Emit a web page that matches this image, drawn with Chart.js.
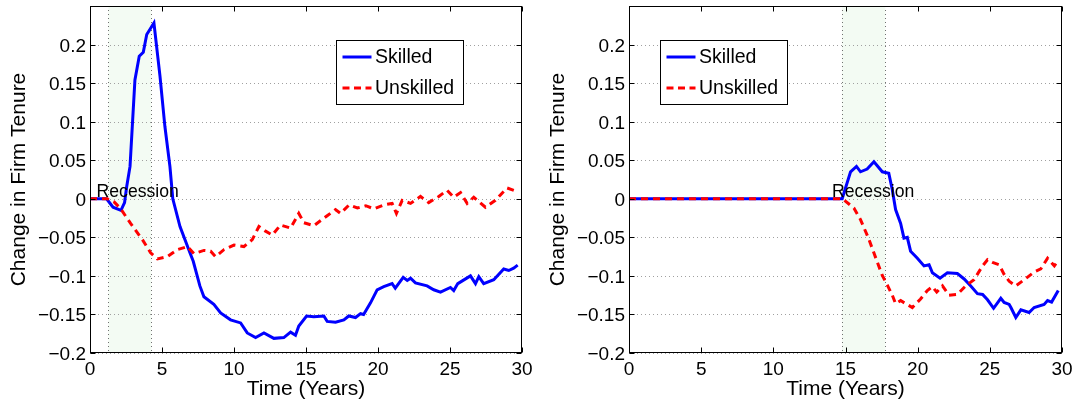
<!DOCTYPE html>
<html>
<head>
<meta charset="utf-8">
<script src="https://cdn.jsdelivr.net/npm/chart.js@4.4.0/dist/chart.umd.min.js"></script>
<style>
  html, body { margin: 0; padding: 0; background: #fff; }
  #wrap { position: relative; width: 1078px; height: 407px; }
  canvas { position: absolute; top: 0; }
</style>
</head>
<body>
<div id="wrap">
  <canvas id="c1" width="539" height="407" style="left:0px;width:539px;height:407px"></canvas>
  <canvas id="c2" width="539" height="407" style="left:539px;width:539px;height:407px"></canvas>
</div>
<script>
// ---------------- DATA ----------------
const seriesNames = ['Skilled', 'Unskilled'];
const xTickValues = [0, 5, 10, 15, 20, 25, 30];
const yTickValues = [-0.2, -0.15, -0.1, -0.05, 0, 0.05, 0.1, 0.15, 0.2];
const xAxisTitle = 'Time (Years)';
const yAxisTitle = 'Change in Firm Tenure';
const recessionLabel = 'Recession';

// Left panel
const leftSkilledT = [0, 1.15, 1.6, 2.15, 2.4, 2.55, 2.78, 3.12, 3.42, 3.7, 3.94, 4.44, 4.86, 5.2, 5.55, 5.75, 6.25, 6.94, 7.17, 7.63, 7.91, 8.6, 9.07, 9.76, 10.46, 10.92, 11.5, 12.08, 12.77, 13.46, 13.93, 14.27, 14.5, 15.04, 15.54, 16.24, 16.47, 17.05, 17.63, 17.97, 18.44, 18.79, 19.0, 19.48, 19.94, 20.4, 20.98, 21.2, 21.75, 22.03, 22.26, 22.6, 23.41, 23.87, 24.34, 25.03, 25.26, 25.54, 26.42, 26.77, 27.0, 27.34, 28.04, 28.73, 29.08, 29.42, 29.7];
const leftSkilledV = [0, 0, -0.011, -0.015, -0.005, 0.016, 0.042, 0.154, 0.185, 0.19, 0.213, 0.228, 0.159, 0.094, 0.042, 0, -0.036, -0.07, -0.081, -0.113, -0.127, -0.137, -0.148, -0.157, -0.161, -0.174, -0.18, -0.174, -0.181, -0.18, -0.173, -0.177, -0.165, -0.152, -0.153, -0.152, -0.159, -0.16, -0.157, -0.152, -0.154, -0.149, -0.15, -0.135, -0.118, -0.114, -0.11, -0.116, -0.102, -0.106, -0.103, -0.109, -0.113, -0.118, -0.121, -0.115, -0.119, -0.11, -0.1, -0.11, -0.101, -0.11, -0.105, -0.091, -0.093, -0.09, -0.086];
const leftUnskilledT = [0, 1.2, 1.67, 2.13, 2.82, 3.64, 4.21, 4.68, 5.37, 6.06, 6.76, 7.22, 7.91, 8.38, 8.72, 9.3, 10.0, 10.69, 11.27, 11.73, 12.19, 12.66, 13.23, 13.93, 14.5, 14.85, 15.54, 16.47, 17.05, 17.4, 17.99, 18.57, 19.15, 19.71, 20.4, 20.98, 21.28, 21.68, 22.26, 22.95, 23.52, 24.22, 24.8, 25.26, 25.73, 26.19, 26.65, 27.46, 28.15, 28.5, 28.96, 29.66];
const leftUnskilledV = [0, 0, -0.004, -0.013, -0.032, -0.053, -0.07, -0.078, -0.075, -0.066, -0.062, -0.071, -0.067, -0.068, -0.075, -0.066, -0.06, -0.062, -0.053, -0.036, -0.042, -0.047, -0.034, -0.038, -0.019, -0.031, -0.035, -0.022, -0.014, -0.019, -0.008, -0.012, -0.009, -0.013, -0.008, -0.006, -0.019, -0.002, -0.006, 0.003, -0.005, 0.003, 0.011, 0.002, 0.008, -0.006, 0.002, -0.011, -0.002, 0.005, 0.014, 0.0095];
const leftRecession = [1.28, 4.26];

// Right panel
const rightSkilledT = [0, 14.77, 15.35, 15.76, 16.04, 16.5, 16.97, 17.55, 18.0, 18.24, 18.47, 18.82, 19.05, 19.28, 19.51, 19.98, 20.44, 20.79, 21.02, 21.55, 22.06, 22.75, 23.22, 23.68, 24.14, 24.5, 24.84, 25.26, 25.76, 25.99, 26.34, 26.46, 26.8, 27.15, 27.72, 28.07, 28.76, 29.0, 29.28, 29.74];
const rightSkilledV = [0, 0, 0.035, 0.042, 0.035, 0.0385, 0.048, 0.035, 0.033, 0.012, -0.014, -0.032, -0.051, -0.05, -0.068, -0.077, -0.087, -0.0855, -0.096, -0.103, -0.096, -0.097, -0.104, -0.113, -0.123, -0.124, -0.131, -0.142, -0.129, -0.1345, -0.137, -0.141, -0.154, -0.144, -0.1475, -0.141, -0.137, -0.132, -0.134, -0.119];
const rightUnskilledT = [0, 14.8, 15.58, 16.04, 16.61, 17.2, 17.55, 17.9, 18.24, 18.47, 18.82, 19.17, 19.63, 20.2, 20.67, 21.02, 21.32, 21.72, 22.17, 22.75, 23.33, 23.9, 24.5, 24.84, 25.19, 25.64, 25.99, 26.34, 26.8, 27.38, 28.07, 28.53, 29.0, 29.47, 29.7];
const rightUnskilledV = [0, 0, -0.012, -0.027, -0.052, -0.082, -0.0995, -0.112, -0.125, -0.136, -0.132, -0.136, -0.141, -0.13, -0.119, -0.114, -0.121, -0.113, -0.125, -0.124, -0.113, -0.105, -0.087, -0.079, -0.0825, -0.0855, -0.098, -0.107, -0.113, -0.105, -0.095, -0.091, -0.077, -0.087, -0.081];
const rightRecession = [14.75, 17.76];

// ---------------- STYLE / LAYOUT ----------------
const FONT = '"Liberation Sans", Arial, Helvetica, sans-serif';
const BLUE = '#0000ff';
const RED = '#ff0000';

function toPoints(ts, vs) { return ts.map((t, i) => ({ x: t, y: vs[i] })); }
function fmtY(v) {
  const r = Math.round(v * 100) / 100;
  if (r === 0) return '0';
  return (r < 0 ? '\u2212' : '') + String(Math.abs(r));
}

const panelPlugin = {
  id: 'panel',
  beforeDatasetsDraw(chart, args, opts) {
    const { ctx, chartArea: ca, scales: { x, y } } = chart;
    ctx.save();
    // recession shading
    const r0 = x.getPixelForValue(opts.recession[0]);
    const r1 = x.getPixelForValue(opts.recession[1]);
    ctx.fillStyle = '#f3fbf3';
    ctx.fillRect(r0, ca.top, r1 - r0, ca.bottom - ca.top);
    // dotted horizontal grid
    ctx.strokeStyle = '#a0a0a0';
    ctx.lineWidth = 1;
    ctx.setLineDash([1, 3]);
    ctx.beginPath();
    yTickValues.forEach(v => {
      const py = Math.round(y.getPixelForValue(v)) + 0.5;
      ctx.moveTo(ca.left, py); ctx.lineTo(ca.right, py);
    });
    ctx.stroke();
    // recession boundary lines
    ctx.strokeStyle = '#707070';
    ctx.beginPath();
    [r0, r1].forEach(p => {
      const px = Math.round(p) + 0.5;
      ctx.moveTo(px, ca.top); ctx.lineTo(px, ca.bottom);
    });
    ctx.stroke();
    ctx.restore();
  },
  afterDatasetsDraw(chart, args, opts) {
    const { ctx, chartArea: ca, scales: { x, y } } = chart;
    ctx.save();
    // recession label
    ctx.fillStyle = '#000';
    ctx.font = '17.6px ' + FONT;
    ctx.textAlign = 'left';
    ctx.textBaseline = 'alphabetic';
    ctx.fillText(recessionLabel, x.getPixelForValue(opts.labelX), y.getPixelForValue(0.0025));
    // box
    ctx.setLineDash([]);
    ctx.strokeStyle = '#000';
    ctx.lineWidth = 1;
    const L = Math.round(ca.left) + 0.5, R = Math.round(ca.right) - 0.5;
    const T = Math.round(ca.top) + 0.5, B = Math.round(ca.bottom) - 0.5;
    ctx.strokeRect(L, T, R - L, B - T);
    // inward tick marks
    const tl = 5;
    ctx.beginPath();
    xTickValues.forEach(v => {
      const px = Math.round(x.getPixelForValue(v)) + 0.5;
      ctx.moveTo(px, B); ctx.lineTo(px, B - tl);
      ctx.moveTo(px, T); ctx.lineTo(px, T + tl);
    });
    yTickValues.forEach(v => {
      const py = Math.round(y.getPixelForValue(v)) + 0.5;
      ctx.moveTo(L, py); ctx.lineTo(L + tl, py);
      ctx.moveTo(R, py); ctx.lineTo(R - tl, py);
    });
    ctx.stroke();

    // tick labels
    ctx.fillStyle = '#000';
    ctx.font = '19px ' + FONT;
    ctx.textAlign = 'center';
    ctx.textBaseline = 'alphabetic';
    xTickValues.forEach(v => {
      ctx.fillText(String(v), x.getPixelForValue(v), ca.bottom + 22);
    });
    ctx.textAlign = 'right';
    yTickValues.forEach(v => {
      ctx.fillText(fmtY(v), ca.left - 4, y.getPixelForValue(v) + 7);
    });
    // axis titles
    ctx.font = '21px ' + FONT;
    ctx.textAlign = 'center';
    ctx.fillText(xAxisTitle, (ca.left + ca.right) / 2, ca.bottom + 42);
    ctx.save();
    ctx.translate(ca.left - 65.5, (ca.top + ca.bottom) / 2);
    ctx.rotate(-Math.PI / 2);
    ctx.fillText(yAxisTitle, 0, 0);
    ctx.restore();

    // legend
    const bx = Math.round(ca.left + opts.legendDX) + 0.5, by = 40.5, bw = 127, bh = 64;
    ctx.fillStyle = '#fff';
    ctx.fillRect(bx, by, bw, bh);
    ctx.strokeStyle = '#000';
    ctx.lineWidth = 1;
    ctx.strokeRect(bx, by, bw, bh);
    const rows = [57, 88];
    const cols = [BLUE, RED];
    ctx.font = '19.5px ' + FONT;
    ctx.textAlign = 'left';
    ctx.textBaseline = 'middle';
    seriesNames.forEach((name, i) => {
      ctx.strokeStyle = cols[i];
      ctx.lineWidth = 3;
      ctx.setLineDash(i === 1 ? [7, 4.5] : []);
      ctx.beginPath();
      ctx.moveTo(bx + 6, rows[i]); ctx.lineTo(bx + 35, rows[i]);
      ctx.stroke();
      ctx.fillStyle = '#000';
      ctx.fillText(name, bx + 38.5, rows[i] + 1);
    });
    ctx.restore();
  }
};

function makeChart(id, skT, skV, unT, unV, recession, labelX, legendDX, padRight) {
  return new Chart(document.getElementById(id), {
    type: 'line',
    data: {
      datasets: [
        { label: seriesNames[0], data: toPoints(skT, skV), borderColor: BLUE, borderWidth: 3,
          pointRadius: 0, tension: 0, fill: false, order: 2 },
        { label: seriesNames[1], data: toPoints(unT, unV), borderColor: RED, borderWidth: 3,
          borderDash: [7, 5], pointRadius: 0, tension: 0, fill: false, order: 1 }
      ]
    },
    options: {
      responsive: false,
      animation: false,
      layout: { padding: { top: 6, right: padRight, left: 0, bottom: 0 } },
      plugins: {
        legend: { display: false },
        tooltip: { enabled: false },
        panel: { recession: recession, labelX: labelX, legendDX: legendDX }
      },
      scales: {
        x: {
          type: 'linear', min: 0, max: 30,
          grid: { display: false },
          border: { display: false },
          afterBuildTicks: s => { s.ticks = xTickValues.map(v => ({ value: v })); },
          afterFit: s => { s.height = 54; s.paddingLeft = 0; s.paddingRight = 0; },
          ticks: { display: false }
        },
        y: {
          type: 'linear', min: -0.2, max: 0.25,
          grid: { display: false },
          border: { display: false },
          afterBuildTicks: s => { s.ticks = yTickValues.map(v => ({ value: v })); },
          afterFit: s => { s.width = 90; s.paddingTop = 0; s.paddingBottom = 0; },
          ticks: { display: false }
        }
      }
    },
    plugins: [panelPlugin]
  });
}

makeChart('c1', leftSkilledT, leftSkilledV, leftUnskilledT, leftUnskilledV, leftRecession, 0.46, 246, 17);
makeChart('c2', rightSkilledT, rightSkilledV, rightUnskilledT, rightUnskilledV, rightRecession, 14.07, 31, 16);
</script>
</body>
</html>
